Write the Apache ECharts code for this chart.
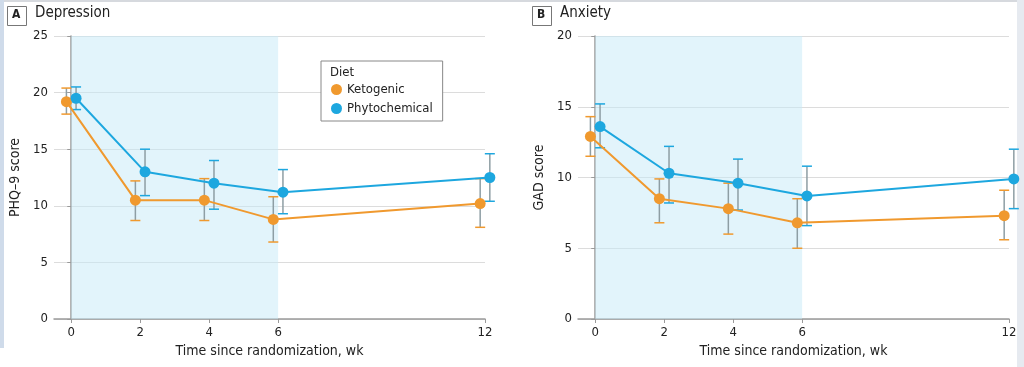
<!DOCTYPE html>
<html><head><meta charset="utf-8">
<script src="https://cdn.jsdelivr.net/npm/echarts@6/dist/echarts.min.js"></script>
<style>html,body{margin:0;padding:0;background:#fff}#c{width:1024px;height:367px}</style>
</head><body><div id="c"></div>
<script>
const weeks = [0, 2, 4, 6, 12];
const xTicks = [0, 2, 4, 6, 12];
const seriesNames = ['Ketogenic', 'Phytochemical'];
// Panel A: Depression (PHQ-9)
const depKetoMean = [19.2, 10.5, 10.5, 8.8, 10.2];
const depKetoLow = [18.1, 8.7, 8.7, 6.8, 8.1];
const depKetoHigh = [20.4, 12.2, 12.4, 10.8, 12.4];
const depPhytoMean = [19.5, 13.0, 12.0, 11.2, 12.5];
const depPhytoLow = [18.5, 10.9, 9.7, 9.3, 10.4];
const depPhytoHigh = [20.5, 15.0, 14.0, 13.2, 14.6];
// Panel B: Anxiety (GAD)
const anxKetoMean = [12.9, 8.5, 7.8, 6.8, 7.3];
const anxKetoLow = [11.5, 6.8, 6.0, 5.0, 5.6];
const anxKetoHigh = [14.3, 9.9, 9.6, 8.5, 9.1];
const anxPhytoMean = [13.6, 10.3, 9.6, 8.7, 9.9];
const anxPhytoLow = [12.1, 8.2, 7.7, 6.6, 7.8];
const anxPhytoHigh = [15.2, 12.2, 11.3, 10.8, 12.0];
const dietPeriod = [0, 6];

const FONT = '"Liberation Sans Narrow","DejaVu Sans Condensed","Roboto",sans-serif';
const ORANGE = '#F0992E';
const BLUE = '#1DA7DF';
const STEM = '#8E9EA4';
const DODGE = 0.14;

const chart = echarts.init(document.getElementById('c'), null, {renderer: 'canvas'});

function xAxis(idx) {
  return {
    type: 'value', gridIndex: idx, min: -0.5, max: 12,
    name: 'Time since randomization, wk', nameLocation: 'middle', nameGap: 22,
    nameTextStyle: {fontFamily: FONT, fontSize: 14, color: '#222'},
    axisLine: {show: true, lineStyle: {color: '#9a9a9a', width: 1.5}},
    axisTick: {show: true, length: 4, customValues: xTicks, lineStyle: {color: '#9a9a9a'}},
    axisLabel: {customValues: xTicks, margin: 7, fontFamily: FONT, fontSize: 13, color: '#222'},
    splitLine: {show: false}
  };
}
function yAxis(idx, max, name) {
  return {
    type: 'value', gridIndex: idx, min: 0, max: max, interval: 5,
    name: name, nameLocation: 'middle', nameGap: 32,
    nameTextStyle: {fontFamily: FONT, fontSize: 14, color: '#222'},
    axisLine: {show: true, lineStyle: {color: '#9a9a9a', width: 1.5}},
    axisTick: {show: true, length: 4, lineStyle: {color: '#9a9a9a'}},
    axisLabel: {margin: 6, fontFamily: FONT, fontSize: 13, color: '#222'},
    splitLine: {show: true, lineStyle: {color: '#dcdcdc', width: 1}}
  };
}
function lineSeries(name, idx, mean, offset, color, withArea) {
  const s = {
    name: name, type: 'line', xAxisIndex: idx, yAxisIndex: idx,
    data: weeks.map((w, i) => [w + offset, mean[i]]),
    symbol: 'circle', symbolSize: 11, z: 4, clip: false,
    itemStyle: {color: color}, lineStyle: {color: color, width: 2},
    emphasis: {disabled: true}, animation: false
  };
  if (withArea) {
    s.markArea = {silent: true, itemStyle: {color: 'rgba(197,233,247,0.5)'},
      data: [[{xAxis: dietPeriod[0]}, {xAxis: dietPeriod[1]}]]};
  }
  return s;
}
function errSeries(name, idx, low, high, offset, color) {
  return {
    name: name, type: 'custom', xAxisIndex: idx, yAxisIndex: idx, z: 3, clip: false,
    itemStyle: {color: color},
    data: weeks.map((w, i) => [w + offset, low[i], high[i]]),
    renderItem: function (params, api) {
      const lo = api.coord([api.value(0), api.value(1)]);
      const hi = api.coord([api.value(0), api.value(2)]);
      const hw = 5;
      return {type: 'group', children: [
        {type: 'line', shape: {x1: lo[0], y1: lo[1], x2: hi[0], y2: hi[1]}, style: {stroke: STEM, lineWidth: 1.5}},
        {type: 'line', shape: {x1: hi[0] - hw, y1: hi[1], x2: hi[0] + hw, y2: hi[1]}, style: {stroke: color, lineWidth: 1.5}},
        {type: 'line', shape: {x1: lo[0] - hw, y1: lo[1], x2: lo[0] + hw, y2: lo[1]}, style: {stroke: color, lineWidth: 1.5}}
      ]};
    },
    animation: false, silent: true
  };
}

function panelLabel(x, letter, title) {
  return [
    {type: 'rect', left: x, top: 6, shape: {width: 19, height: 19}, style: {fill: '#fff', stroke: '#777', lineWidth: 1}},
    {type: 'text', left: x + 5, top: 9, style: {text: letter, font: 'bold 12px ' + FONT, fill: '#222'}},
    {type: 'text', left: x + 28, top: 6, style: {text: title, font: '15px ' + FONT, fill: '#222'}}
  ];
}

const option = {
  backgroundColor: '#fff',
  animation: false,
  grid: [
    {left: 54, top: 36, width: 431, height: 283},
    {left: 578, top: 36, width: 431, height: 283}
  ],
  xAxis: [xAxis(0), xAxis(1)],
  yAxis: [yAxis(0, 25, 'PHQ–9 score'), yAxis(1, 20, 'GAD score')],
  legend: {
    data: [{name: seriesNames[0], itemStyle: {color: ORANGE}}, {name: seriesNames[1], itemStyle: {color: BLUE}}],
    left: 321, top: 61, orient: 'vertical',
    padding: [22, 10, 6, 10], itemGap: 6, itemWidth: 11, itemHeight: 11, icon: 'circle',
    borderColor: '#888', borderWidth: 1, backgroundColor: '#fff',
    textStyle: {fontFamily: FONT, fontSize: 13, color: '#222'},
    selectedMode: false
  },
  graphic: [
    {type: 'rect', left: 0, top: 0, shape: {width: 1024, height: 2}, style: {fill: '#d6d9de'}, silent: true},
    {type: 'rect', left: 0, top: 0, shape: {width: 4, height: 348}, style: {fill: '#cfdbea'}, silent: true},
    {type: 'rect', left: 1017, top: 0, shape: {width: 7, height: 367}, style: {fill: '#e6eaf0'}, silent: true},
    ...panelLabel(7, 'A', 'Depression'),
    ...panelLabel(532, 'B', 'Anxiety'),
    {type: 'text', left: 330, top: 66, z: 100, style: {text: 'Diet', font: '13px ' + FONT, fill: '#222'}}
  ],
  series: [
    errSeries('Ketogenic', 0, depKetoLow, depKetoHigh, -DODGE, ORANGE),
    errSeries('Phytochemical', 0, depPhytoLow, depPhytoHigh, DODGE, BLUE),
    lineSeries('Ketogenic', 0, depKetoMean, -DODGE, ORANGE, true),
    lineSeries('Phytochemical', 0, depPhytoMean, DODGE, BLUE, false),
    errSeries('Ketogenic', 1, anxKetoLow, anxKetoHigh, -DODGE, ORANGE),
    errSeries('Phytochemical', 1, anxPhytoLow, anxPhytoHigh, DODGE, BLUE),
    lineSeries('Ketogenic', 1, anxKetoMean, -DODGE, ORANGE, true),
    lineSeries('Phytochemical', 1, anxPhytoMean, DODGE, BLUE, false)
  ]
};
chart.setOption(option);
</script></body></html>
